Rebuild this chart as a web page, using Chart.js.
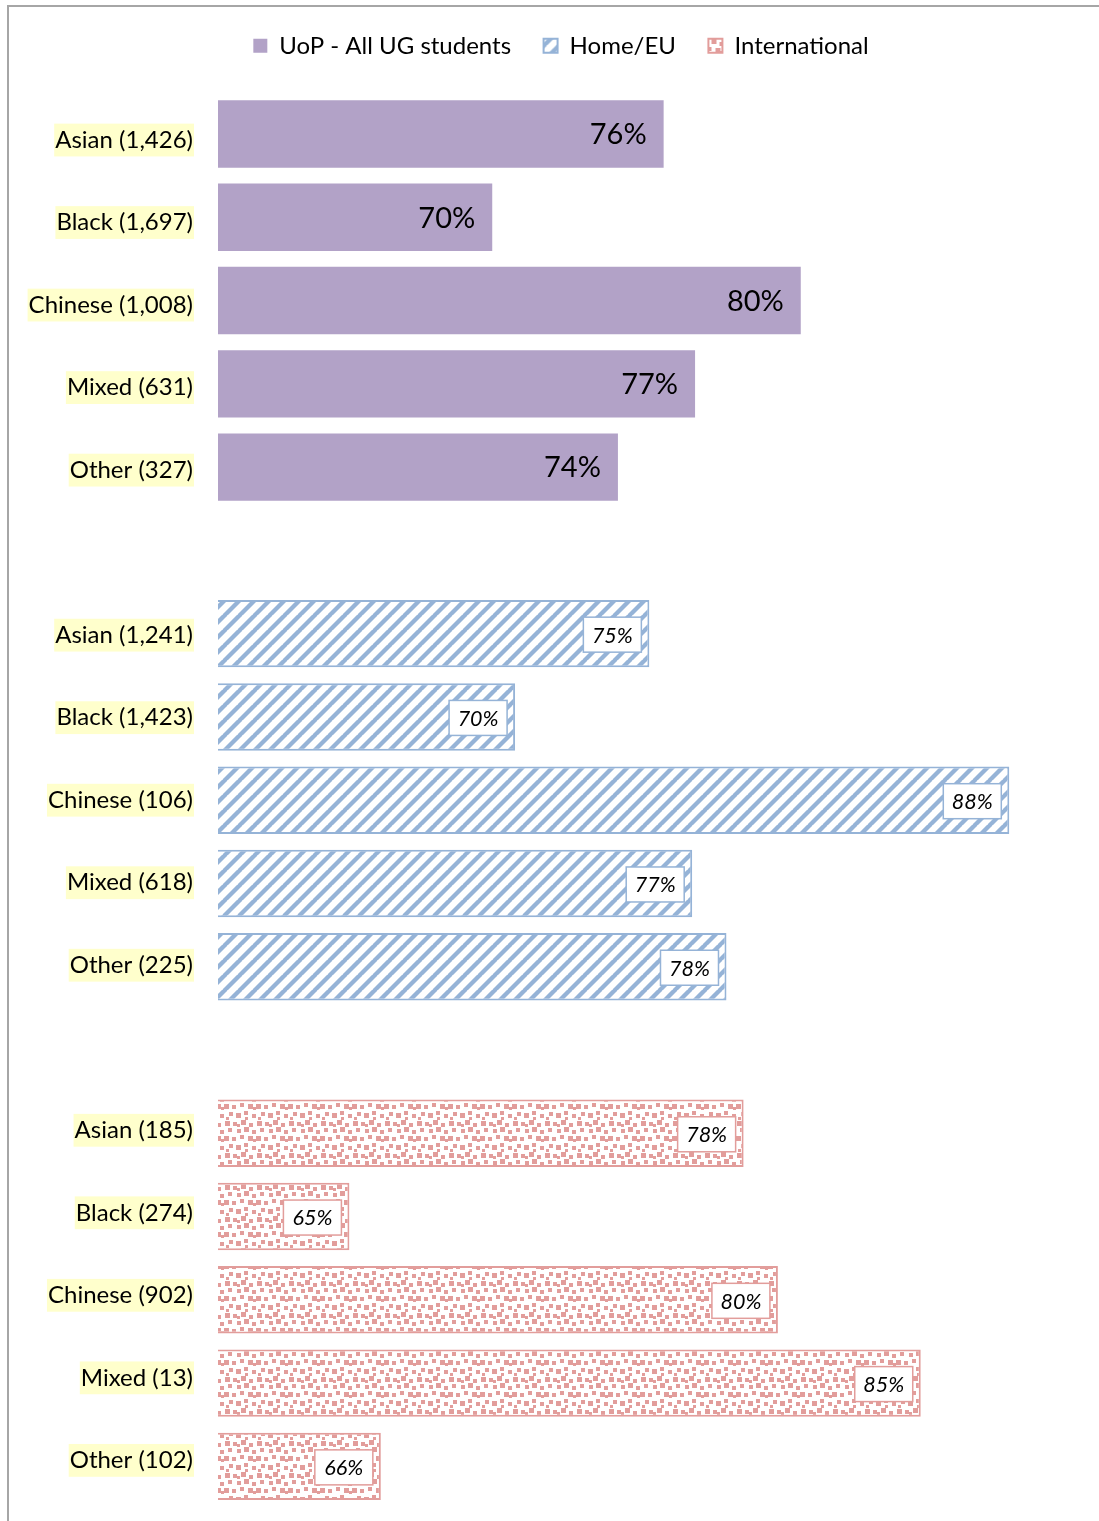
<!DOCTYPE html>
<html><head><meta charset="utf-8">
<script src="https://cdn.jsdelivr.net/npm/chart.js@4.4.1/dist/chart.umd.min.js"></script>
<style>html,body{margin:0;padding:0;background:#fff;overflow:hidden}
#frame{position:absolute;left:7px;top:5px;width:2000px;height:2000px;border-left:2px solid #A6A6A6;border-top:2px solid #A6A6A6}
#c{position:absolute;left:0;top:0}</style></head>
<body><div id="frame"></div><canvas id="c" width="1099" height="1521"></canvas>
<script>
const seriesNames = ['UoP - All UG students', 'Home/EU', 'International'];
const uopCategories = ['Asian (1,426)', 'Black (1,697)', 'Chinese (1,008)', 'Mixed (631)', 'Other (327)'];
const homeCategories = ['Asian (1,241)', 'Black (1,423)', 'Chinese (106)', 'Mixed (618)', 'Other (225)'];
const intlCategories = ['Asian (185)', 'Black (274)', 'Chinese (902)', 'Mixed (13)', 'Other (102)'];
const uopValues = [75.6, 69.6, 80.4, 76.7, 74.0];
const homeValues = [75.1, 70.4, 87.7, 76.6, 77.8];
const intlValues = [78.4, 64.6, 79.6, 84.6, 65.7];

const N = uopCategories.length;
const labels = [...uopCategories, '', ...homeCategories, '', ...intlCategories];
const pad = n => Array(n).fill(null);
const uopData = [...uopValues, ...pad(2 * N + 2)];
const homeData = [...pad(N + 1), ...homeValues, ...pad(N + 1)];
const intlData = [...pad(2 * N + 2), ...intlValues];

function stripePattern(color) {
  const s = 15;
  const c = document.createElement('canvas'); c.width = c.height = s;
  const g = c.getContext('2d');
  g.fillStyle = '#fff'; g.fillRect(0, 0, s, s);
  g.strokeStyle = color; g.lineWidth = 4.3; g.beginPath();
  for (const o of [-s, 0, s]) { g.moveTo(o - 1, s + 1); g.lineTo(o + s + 1, -1); }
  g.stroke();
  return g.createPattern(c, 'repeat');
}
function dotPattern(color) {
  const c = document.createElement('canvas'); c.width = c.height = 32;
  const g = c.getContext('2d');
  g.fillStyle = '#fff'; g.fillRect(0, 0, 32, 32);
  g.fillStyle = color;
  const sq = [[1,1,5],[9,2,4],[17,0,5],[25,3,4],[4,8,4],[13,9,4],[20,7,5],[28,10,4],
              [0,16,5],[8,17,4],[16,15,4],[24,16,5],[5,24,4],[12,25,5],[20,23,4],[28,26,4],
              [13,4,3],[29,19,3],[2,29,3],[21,29,3]];
  for (const [x, y, w] of sq) g.fillRect(x, y, w, w);
  return g.createPattern(c, 'repeat');
}

const purple = '#B2A2C7', blue = '#95B3D7', pink = '#E29D9B';

const labelPlugin = {
  id: 'barLabels',
  afterDatasetsDraw(chart) {
    const ctx = chart.ctx;
    chart.data.datasets.forEach((ds, i) => {
      const meta = chart.getDatasetMeta(i);
      meta.data.forEach((bar, j) => {
        const v = ds.data[j]; if (v == null) return;
        const txt = Math.round(v) + '%';
        ctx.save();
        ctx.textBaseline = 'middle';
        if (i === 0) {
          ctx.font = '29px Lato'; ctx.fillStyle = '#000'; ctx.textAlign = 'right';
          ctx.fillText(txt, bar.x - 17, bar.y + 1);
        } else {
          const w = 58, h = 35, x1 = bar.x - 8 - w, y1 = bar.y - h / 2 + 1;
          ctx.fillStyle = '#fff'; ctx.fillRect(x1, y1, w, h);
          ctx.strokeStyle = ds.borderColor; ctx.lineWidth = 1.5; ctx.strokeRect(x1, y1, w, h);
          ctx.font = 'italic 21.5px Lato'; ctx.fillStyle = '#000'; ctx.textAlign = 'center';
          ctx.fillText(txt, x1 + w / 2, y1 + h / 2 + 1);
        }
        ctx.restore();
      });
    });
  }
};
const legendSpace = {
  id: 'legendSpace',
  beforeInit(chart) {
    const lg = chart.legend;
    const fit = lg.fit;
    lg.fit = function () { fit.bind(this)(); this.height = 91.1; };
    const draw = lg.draw;
    lg.draw = function () {
      const ctx = this.ctx; ctx.save(); ctx.translate(19.5, 0);
      draw.apply(this, arguments); ctx.restore();
    };
  }
};

new Chart(document.getElementById('c'), {
  type: 'bar',
  data: {
    labels,
    datasets: [
      { label: seriesNames[0], data: uopData, backgroundColor: purple, borderColor: purple, borderWidth: 0 },
      { label: seriesNames[1], data: homeData, backgroundColor: stripePattern(blue), borderColor: blue, borderWidth: 2 },
      { label: seriesNames[2], data: intlData, backgroundColor: dotPattern(pink), borderColor: pink, borderWidth: 2 }
    ]
  },
  options: {
    indexAxis: 'y',
    responsive: false,
    animation: false,
    grouped: false,
    categoryPercentage: 1,
    barPercentage: 0.817,
    layout: { padding: { left: 8, right: 24, top: 1.3, bottom: 13 } },
    plugins: {
      legend: {
        position: 'top',
        labels: { font: { family: 'Lato', size: 24 }, color: '#000', boxWidth: 14, boxHeight: 14, padding: 32.5 }
      },
      tooltip: { enabled: false }
    },
    scales: {
      x: { display: false, min: 60, max: 90 },
      y: {
        grid: { display: false, drawTicks: false }, border: { display: false },
        afterFit: s => { s.width = 210; s.paddingTop = 0; s.paddingBottom = 0; },
        afterUpdate: s => {
          const orig = s.constructor.prototype.getPixelForTick;
          s.getPixelForTick = function (i) {
            const mid = (this.top + this.bottom) / 2;
            return mid + (orig.call(this, i) - mid) * 0.991;
          };
        },
        ticks: {
          font: { family: 'Lato', size: 24 }, color: '#000', padding: 25, autoSkip: false,
          showLabelBackdrop: true,
          backdropColor: c => (c.tick && c.tick.label) ? '#FFFFCC' : 'rgba(0,0,0,0)',
          backdropPadding: { top: 2, bottom: 2, left: 1, right: 1 }
        }
      }
    }
  },
  plugins: [labelPlugin, legendSpace]
});
</script></body></html>
